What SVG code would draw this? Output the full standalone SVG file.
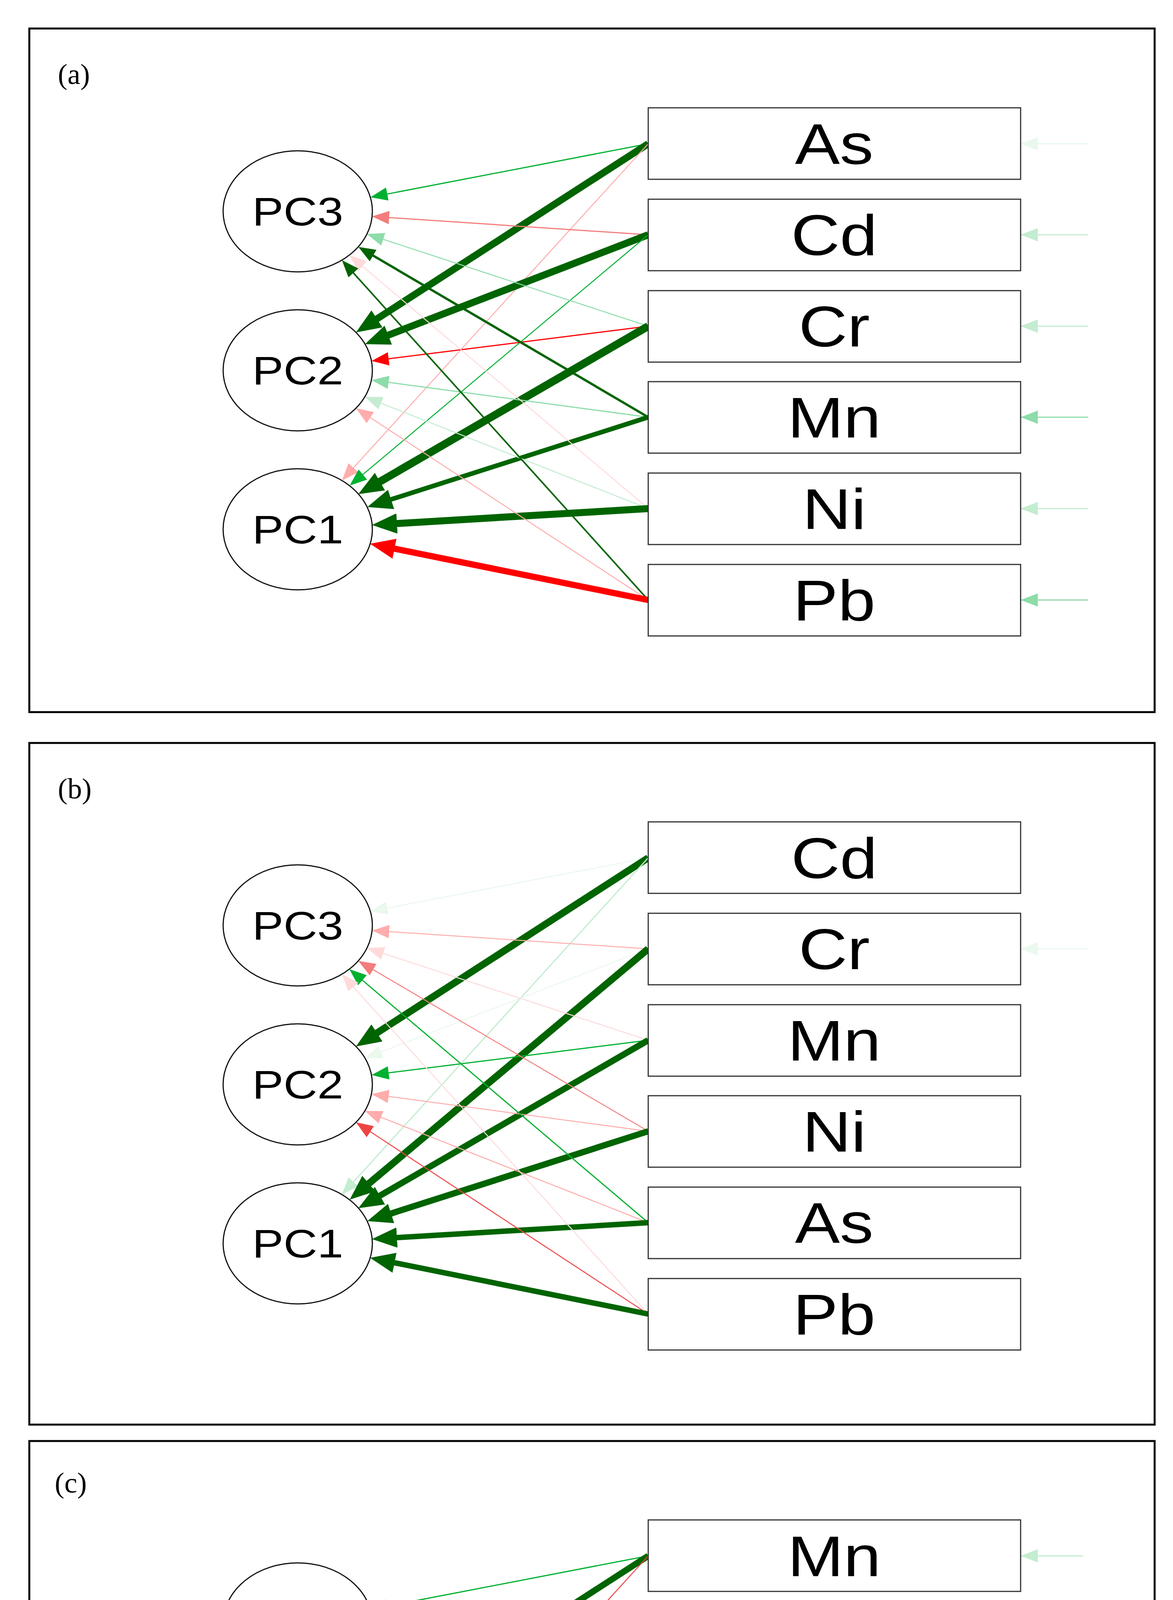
<svg xmlns="http://www.w3.org/2000/svg" width="3002" height="5494" viewBox="0 0 3002 5494">
<style>
.frame{fill:none;stroke:#000;stroke-width:5}
.box{fill:#fff;stroke:#333;stroke-width:3}
.ell{fill:#fff;stroke:#111;stroke-width:3}
.bt{font-family:"Liberation Sans",Arial,sans-serif;font-size:146px;text-anchor:middle;fill:#000}
.pt{font-family:"Liberation Sans",Arial,sans-serif;font-size:102px;text-anchor:middle;fill:#000}
.lab{font-family:"Liberation Serif","Times New Roman",serif;font-size:74px;fill:#000}
.cn path{fill:none}
.c{stroke-dasharray:97 5}
.dg{stroke:#006400;marker-end:url(#mdg)}
.dgb{stroke:#006400;marker-end:url(#mdgB)}
.g{stroke:#00b030;marker-end:url(#mg)}
.g2{stroke:#30c060;marker-end:url(#mg2)}
.g3{stroke:#50c878;marker-end:url(#mg3)}
.lg{stroke:#8edcaa;marker-end:url(#mlg)}
.vlg{stroke:#c3ecd0;marker-end:url(#mvlg)}
.vvlg{stroke:#eaf8ee;marker-end:url(#mvvlg)}
.r{stroke:#ff0000;marker-end:url(#mr)}
.rb{stroke:#ff0000;marker-end:url(#mrB)}
.r2{stroke:#ee4444;marker-end:url(#mr2)}
.lr{stroke:#f47c7c;marker-end:url(#mlr)}
.llr{stroke:#ffacac;marker-end:url(#mllr)}
.vlr{stroke:#ffdada;marker-end:url(#mvlr)}
.cv{stroke:#006400;marker-start:url(#mcv);marker-end:url(#mcv);stroke-dasharray:0 4 92 4}
</style>
<defs>
<marker id="mdg" markerUnits="userSpaceOnUse" markerWidth="44" markerHeight="34" refX="44" refY="17" orient="auto" viewBox="0 0 44 34"><path d="M0,0L44,17L0,34z" fill="#006400"/></marker>
<marker id="mdgB" markerUnits="userSpaceOnUse" markerWidth="64" markerHeight="52" refX="64" refY="26" orient="auto" viewBox="0 0 64 52"><path d="M0,0L64,26L0,52z" fill="#006400"/></marker>
<marker id="mcv" markerUnits="userSpaceOnUse" markerWidth="64" markerHeight="52" refX="64" refY="26" orient="auto-start-reverse" viewBox="0 0 64 52"><path d="M0,0L64,26L0,52z" fill="#006400"/></marker>
<marker id="mg" markerUnits="userSpaceOnUse" markerWidth="44" markerHeight="34" refX="44" refY="17" orient="auto" viewBox="0 0 44 34"><path d="M0,0L44,17L0,34z" fill="#00b030"/></marker>
<marker id="mg2" markerUnits="userSpaceOnUse" markerWidth="44" markerHeight="34" refX="44" refY="17" orient="auto" viewBox="0 0 44 34"><path d="M0,0L44,17L0,34z" fill="#30c060"/></marker>
<marker id="mg3" markerUnits="userSpaceOnUse" markerWidth="44" markerHeight="34" refX="44" refY="17" orient="auto" viewBox="0 0 44 34"><path d="M0,0L44,17L0,34z" fill="#50c878"/></marker>
<marker id="mlg" markerUnits="userSpaceOnUse" markerWidth="44" markerHeight="34" refX="44" refY="17" orient="auto" viewBox="0 0 44 34"><path d="M0,0L44,17L0,34z" fill="#8edcaa"/></marker>
<marker id="mvlg" markerUnits="userSpaceOnUse" markerWidth="44" markerHeight="34" refX="44" refY="17" orient="auto" viewBox="0 0 44 34"><path d="M0,0L44,17L0,34z" fill="#c3ecd0"/></marker>
<marker id="mvvlg" markerUnits="userSpaceOnUse" markerWidth="44" markerHeight="34" refX="44" refY="17" orient="auto" viewBox="0 0 44 34"><path d="M0,0L44,17L0,34z" fill="#eaf8ee"/></marker>
<marker id="mr" markerUnits="userSpaceOnUse" markerWidth="44" markerHeight="34" refX="44" refY="17" orient="auto" viewBox="0 0 44 34"><path d="M0,0L44,17L0,34z" fill="#ff0000"/></marker>
<marker id="mrB" markerUnits="userSpaceOnUse" markerWidth="64" markerHeight="52" refX="64" refY="26" orient="auto" viewBox="0 0 64 52"><path d="M0,0L64,26L0,52z" fill="#ff0000"/></marker>
<marker id="mr2" markerUnits="userSpaceOnUse" markerWidth="44" markerHeight="34" refX="44" refY="17" orient="auto" viewBox="0 0 44 34"><path d="M0,0L44,17L0,34z" fill="#ee4444"/></marker>
<marker id="mlr" markerUnits="userSpaceOnUse" markerWidth="44" markerHeight="34" refX="44" refY="17" orient="auto" viewBox="0 0 44 34"><path d="M0,0L44,17L0,34z" fill="#f47c7c"/></marker>
<marker id="mllr" markerUnits="userSpaceOnUse" markerWidth="44" markerHeight="34" refX="44" refY="17" orient="auto" viewBox="0 0 44 34"><path d="M0,0L44,17L0,34z" fill="#ffacac"/></marker>
<marker id="mvlr" markerUnits="userSpaceOnUse" markerWidth="44" markerHeight="34" refX="44" refY="17" orient="auto" viewBox="0 0 44 34"><path d="M0,0L44,17L0,34z" fill="#ffdada"/></marker>
</defs>
<rect width="3002" height="5494" fill="#fff"/>

<!-- Panel (a) -->
<g id="panel-a">
<rect class="frame" x="75" y="73" width="2880" height="1750"/>
<text class="lab" x="148" y="215">(a)</text>
<g id="connectors-a" class="cn">
<path class="c g" pathLength="100" stroke-width="3" d="M1659 368L948 505"/>
<path class="c dgb" pathLength="100" stroke-width="18" d="M1659 368L911 851"/>
<path class="c llr" pathLength="100" stroke-width="2.5" d="M1659 368L875 1230"/>
<path class="c lr" pathLength="100" stroke-width="3" d="M1659 601L952 554"/>
<path class="c dgb" pathLength="100" stroke-width="18" d="M1659 601L934 881"/>
<path class="c g" pathLength="100" stroke-width="2.5" d="M1659 601L895 1243"/>
<path class="c lg" pathLength="100" stroke-width="2.5" d="M1659 835L939 599"/>
<path class="c r" pathLength="100" stroke-width="3" d="M1659 835L951 924"/>
<path class="c dgb" pathLength="100" stroke-width="20" d="M1659 835L917 1265"/>
<path class="c dg" pathLength="100" stroke-width="6" d="M1659 1068L917 632"/>
<path class="c lg" pathLength="100" stroke-width="3" d="M1659 1068L951 973"/>
<path class="c dgb" pathLength="100" stroke-width="12" d="M1659 1068L940 1298"/>
<path class="c vlr" pathLength="100" stroke-width="2.5" d="M1659 1302L894 653"/>
<path class="c vlg" pathLength="100" stroke-width="2.5" d="M1659 1302L934 1016"/>
<path class="c dgb" pathLength="100" stroke-width="18" d="M1659 1302L952 1344"/>
<path class="c dg" pathLength="100" stroke-width="4" d="M1659 1536L875 666"/>
<path class="c llr" pathLength="100" stroke-width="2.5" d="M1659 1536L911 1045"/>
<path class="c rb" pathLength="100" stroke-width="16" d="M1659 1536L947 1392"/>
<path class="vvlg" stroke-width="3" d="M2785 368L2612 368"/>
<path class="vlg" stroke-width="3" d="M2785 601L2612 601"/>
<path class="vlg" stroke-width="3" d="M2785 835L2612 835"/>
<path class="lg" stroke-width="3" d="M2785 1068L2612 1068"/>
<path class="vlg" stroke-width="3" d="M2785 1302L2612 1302"/>
<path class="lg" stroke-width="3" d="M2785 1536L2612 1536"/>
</g>
<g id="a-PC3"><ellipse class="ell" cx="762" cy="541" rx="191" ry="155"/><text class="pt" x="762" y="577" textLength="233" lengthAdjust="spacingAndGlyphs">PC3</text></g>
<g id="a-PC2"><ellipse class="ell" cx="762" cy="948" rx="191" ry="155"/><text class="pt" x="762" y="984" textLength="233" lengthAdjust="spacingAndGlyphs">PC2</text></g>
<g id="a-PC1"><ellipse class="ell" cx="762" cy="1355" rx="191" ry="155"/><text class="pt" x="762" y="1391" textLength="233" lengthAdjust="spacingAndGlyphs">PC1</text></g>
<g id="a-As"><rect class="box" x="1659" y="276" width="953" height="183"/><text class="bt" x="2135" y="420" textLength="201" lengthAdjust="spacingAndGlyphs">As</text></g>
<g id="a-Cd"><rect class="box" x="1659" y="510" width="953" height="183"/><text class="bt" x="2135" y="653" textLength="221" lengthAdjust="spacingAndGlyphs">Cd</text></g>
<g id="a-Cr"><rect class="box" x="1659" y="744" width="953" height="183"/><text class="bt" x="2135" y="887" textLength="182" lengthAdjust="spacingAndGlyphs">Cr</text></g>
<g id="a-Mn"><rect class="box" x="1659" y="977" width="953" height="183"/><text class="bt" x="2135" y="1120" textLength="239" lengthAdjust="spacingAndGlyphs">Mn</text></g>
<g id="a-Ni"><rect class="box" x="1659" y="1211" width="953" height="183"/><text class="bt" x="2135" y="1354" textLength="163" lengthAdjust="spacingAndGlyphs">Ni</text></g>
<g id="a-Pb"><rect class="box" x="1659" y="1445" width="953" height="183"/><text class="bt" x="2135" y="1588" textLength="211" lengthAdjust="spacingAndGlyphs">Pb</text></g>
</g>

<!-- Panel (b) -->
<g id="panel-b" transform="translate(0,1828)">
<rect class="frame" x="75" y="74" width="2880" height="1745"/>
<text class="lab" x="148" y="216">(b)</text>
<g id="connectors-b" class="cn">
<path class="c vvlg" pathLength="100" stroke-width="2.5" d="M1659 368L948 505"/>
<path class="c dgb" pathLength="100" stroke-width="18" d="M1659 368L911 851"/>
<path class="c vlg" pathLength="100" stroke-width="3" d="M1659 368L875 1230"/>
<path class="c llr" pathLength="100" stroke-width="2.5" d="M1659 601L952 554"/>
<path class="c vvlg" pathLength="100" stroke-width="2.5" d="M1659 601L934 881"/>
<path class="c dgb" pathLength="100" stroke-width="18" d="M1659 601L895 1243"/>
<path class="c vlr" pathLength="100" stroke-width="2.5" d="M1659 835L939 599"/>
<path class="c g" pathLength="100" stroke-width="3" d="M1659 835L951 924"/>
<path class="c dgb" pathLength="100" stroke-width="16" d="M1659 835L917 1265"/>
<path class="c lr" pathLength="100" stroke-width="2.5" d="M1659 1068L917 632"/>
<path class="c llr" pathLength="100" stroke-width="2.5" d="M1659 1068L951 973"/>
<path class="c dgb" pathLength="100" stroke-width="16" d="M1659 1068L940 1298"/>
<path class="c g" pathLength="100" stroke-width="3" d="M1659 1302L894 653"/>
<path class="c llr" pathLength="100" stroke-width="2.5" d="M1659 1302L934 1016"/>
<path class="c dgb" pathLength="100" stroke-width="14" d="M1659 1302L952 1344"/>
<path class="c vlr" pathLength="100" stroke-width="2.5" d="M1659 1536L875 666"/>
<path class="c r2" pathLength="100" stroke-width="2.5" d="M1659 1536L911 1045"/>
<path class="c dgb" pathLength="100" stroke-width="14" d="M1659 1536L947 1392"/>
<path class="vvlg" stroke-width="3" d="M2785 601L2612 601"/>
</g>
<g id="b-PC3"><ellipse class="ell" cx="762" cy="541" rx="191" ry="155"/><text class="pt" x="762" y="577" textLength="233" lengthAdjust="spacingAndGlyphs">PC3</text></g>
<g id="b-PC2"><ellipse class="ell" cx="762" cy="948" rx="191" ry="155"/><text class="pt" x="762" y="984" textLength="233" lengthAdjust="spacingAndGlyphs">PC2</text></g>
<g id="b-PC1"><ellipse class="ell" cx="762" cy="1355" rx="191" ry="155"/><text class="pt" x="762" y="1391" textLength="233" lengthAdjust="spacingAndGlyphs">PC1</text></g>
<g id="b-Cd"><rect class="box" x="1659" y="276" width="953" height="183"/><text class="bt" x="2135" y="420" textLength="221" lengthAdjust="spacingAndGlyphs">Cd</text></g>
<g id="b-Cr"><rect class="box" x="1659" y="510" width="953" height="183"/><text class="bt" x="2135" y="653" textLength="182" lengthAdjust="spacingAndGlyphs">Cr</text></g>
<g id="b-Mn"><rect class="box" x="1659" y="744" width="953" height="183"/><text class="bt" x="2135" y="887" textLength="239" lengthAdjust="spacingAndGlyphs">Mn</text></g>
<g id="b-Ni"><rect class="box" x="1659" y="977" width="953" height="183"/><text class="bt" x="2135" y="1120" textLength="163" lengthAdjust="spacingAndGlyphs">Ni</text></g>
<g id="b-As"><rect class="box" x="1659" y="1211" width="953" height="183"/><text class="bt" x="2135" y="1354" textLength="201" lengthAdjust="spacingAndGlyphs">As</text></g>
<g id="b-Pb"><rect class="box" x="1659" y="1445" width="953" height="183"/><text class="bt" x="2135" y="1588" textLength="211" lengthAdjust="spacingAndGlyphs">Pb</text></g>
</g>

<!-- Panel (c) -->
<g id="panel-c" transform="translate(0,3615)">
<rect class="frame" x="75" y="74" width="2880" height="1754"/>
<text class="lab" x="140" y="206">(c)</text>
<g id="connectors-c" class="cn">
<path class="c g" pathLength="100" stroke-width="3" d="M1659 368L948 505"/>
<path class="c dgb" pathLength="100" stroke-width="16" d="M1659 368L911 851"/>
<path class="c r2" pathLength="100" stroke-width="2.5" d="M1659 368L875 1230"/>
<path class="c dg" pathLength="100" stroke-width="7" d="M1659 601L952 554"/>
<path class="c r2" pathLength="100" stroke-width="2.5" d="M1659 601L934 881"/>
<path class="c rb" pathLength="100" stroke-width="16" d="M1659 601L895 1243"/>
<path class="c vlr" pathLength="100" stroke-width="2.5" d="M1659 835L939 599"/>
<path class="c g" pathLength="100" stroke-width="3" d="M1659 835L951 924"/>
<path class="c dgb" pathLength="100" stroke-width="14" d="M1659 835L917 1265"/>
<path class="c lg" pathLength="100" stroke-width="3" d="M1659 1068L917 632"/>
<path class="c g" pathLength="100" stroke-width="3" d="M1659 1068L951 973"/>
<path class="c dgb" pathLength="100" stroke-width="14" d="M1659 1068L940 1298"/>
<path class="c g2" pathLength="100" stroke-width="2.5" d="M1659 1302L894 653"/>
<path class="c r2" pathLength="100" stroke-width="2.5" d="M1659 1302L934 1016"/>
<path class="c dgb" pathLength="100" stroke-width="14" d="M1659 1302L952 1344"/>
<path class="c g3" pathLength="100" stroke-width="2.5" d="M1659 1536L875 666"/>
<path class="c lr" pathLength="100" stroke-width="2.5" d="M1659 1536L911 1045"/>
<path class="c dgb" pathLength="100" stroke-width="16" d="M1659 1536L947 1392"/>
<path class="cv" pathLength="100" stroke-width="11" d="M571 541C250 620 250 869 571 948"/>
<path class="cv" pathLength="100" stroke-width="16" d="M571 948C250 1027 250 1276 571 1355"/>
<path class="cv" pathLength="100" stroke-width="16" d="M571 541C240 750 240 1146 571 1355"/>
<path class="vlg" stroke-width="3" d="M2772 368L2612 368"/>
<path class="vvlg" stroke-width="3" d="M2772 601L2612 601"/>
<path class="g" stroke-width="3" d="M2772 835L2612 835"/>
<path class="vlg" stroke-width="3" d="M2772 1068L2612 1068"/>
<path class="vlg" stroke-width="3" d="M2772 1302L2612 1302"/>
<path class="vvlg" stroke-width="3" d="M2772 1536L2612 1536"/>
</g>
<g id="c-PC3"><ellipse class="ell" cx="762" cy="541" rx="191" ry="155"/><text class="pt" x="762" y="577" textLength="233" lengthAdjust="spacingAndGlyphs">PC3</text></g>
<g id="c-PC2"><ellipse class="ell" cx="762" cy="948" rx="191" ry="155"/><text class="pt" x="762" y="984" textLength="233" lengthAdjust="spacingAndGlyphs">PC2</text></g>
<g id="c-PC1"><ellipse class="ell" cx="762" cy="1355" rx="191" ry="155"/><text class="pt" x="762" y="1391" textLength="233" lengthAdjust="spacingAndGlyphs">PC1</text></g>
<g id="c-Mn"><rect class="box" x="1659" y="276" width="953" height="183"/><text class="bt" x="2135" y="420" textLength="239" lengthAdjust="spacingAndGlyphs">Mn</text></g>
<g id="c-Cr"><rect class="box" x="1659" y="510" width="953" height="183"/><text class="bt" x="2135" y="653" textLength="182" lengthAdjust="spacingAndGlyphs">Cr</text></g>
<g id="c-Ni"><rect class="box" x="1659" y="744" width="953" height="183"/><text class="bt" x="2135" y="887" textLength="163" lengthAdjust="spacingAndGlyphs">Ni</text></g>
<g id="c-As"><rect class="box" x="1659" y="977" width="953" height="183"/><text class="bt" x="2135" y="1120" textLength="201" lengthAdjust="spacingAndGlyphs">As</text></g>
<g id="c-Pb"><rect class="box" x="1659" y="1211" width="953" height="183"/><text class="bt" x="2135" y="1354" textLength="211" lengthAdjust="spacingAndGlyphs">Pb</text></g>
<g id="c-Cd"><rect class="box" x="1659" y="1445" width="953" height="183"/><text class="bt" x="2135" y="1588" textLength="221" lengthAdjust="spacingAndGlyphs">Cd</text></g>
</g>
</svg>
